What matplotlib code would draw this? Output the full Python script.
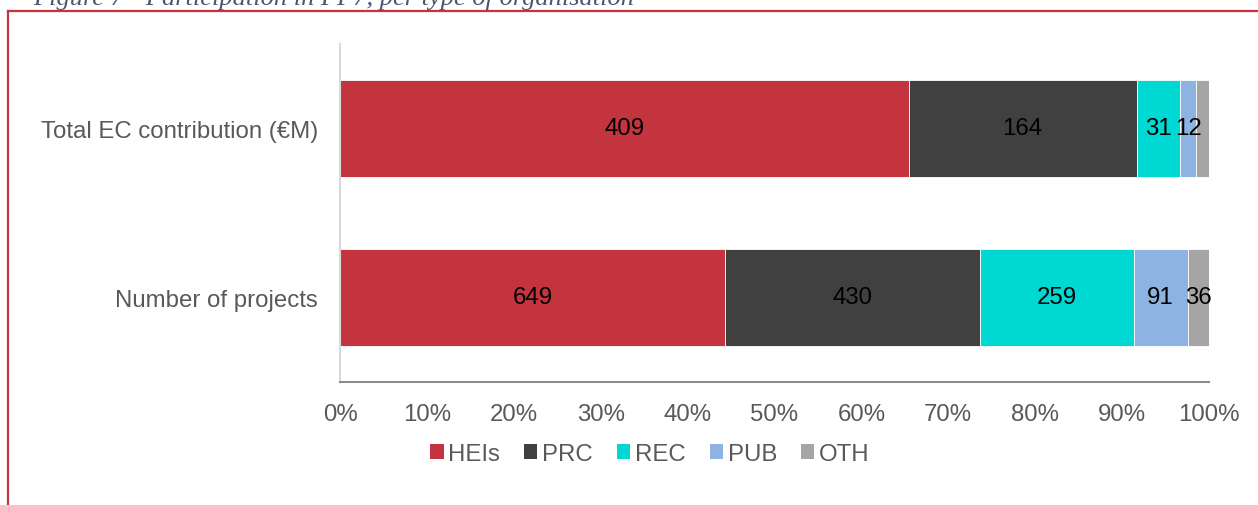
import matplotlib

matplotlib.use("Agg")
import matplotlib.pyplot as plt
from matplotlib.lines import Line2D
from matplotlib.patches import Patch
import numpy as np

plt.rcParams["font.family"] = ["Liberation Sans", "DejaVu Sans"]

# ---------------------------------------------------------------- data
CATEGORIES = ["Total EC contribution (€M)", "Number of projects"]
ORG_TYPES = ["HEIs", "PRC", "REC", "PUB", "OTH"]
EC_CONTRIB = [409, 164, 31, 12, 9]          # OTH is not labelled in the source
N_PROJECTS = [649, 430, 259, 91, 36]
SHOW_LABEL = [[True, True, True, True, False],
              [True, True, True, True, True]]
COLORS = ["#C3343F", "#404040", "#00D8D4", "#8DB3E2", "#A5A5A5"]
CAPTION = "Figure 7 - Participation in FP7, per type of organisation"

W, H = 1258, 506
FS = 17.3


def main():
    fig = plt.figure(figsize=(W / 100, H / 100), dpi=100)
    ax = fig.add_axes([340 / W, 1 - 383 / H, (1209 - 340) / W, (383 - 45) / H])

    rows = np.array([EC_CONTRIB, N_PROJECTS], dtype=float)
    shares = rows / rows.sum(axis=1, keepdims=True)
    ypos = np.arange(len(CATEGORIES))

    left = np.zeros(len(CATEGORIES))
    for j, (name, col) in enumerate(zip(ORG_TYPES, COLORS)):
        ax.barh(ypos, shares[:, j], left=left, height=0.574, color=col,
                edgecolor="white", linewidth=0.6, label=name)
        for i in range(len(CATEGORIES)):
            if SHOW_LABEL[i][j]:
                ax.text(left[i] + shares[i, j] / 2, ypos[i], f"{rows[i, j]:.0f}",
                        ha="center", va="center", fontsize=FS, color="black")
        left = left + shares[:, j]

    ax.set_xlim(0, 1)
    ax.set_ylim(len(CATEGORIES) - 0.5, -0.5)
    ax.set_yticks(ypos)
    ax.set_yticklabels(CATEGORIES)
    ax.set_xticks(np.linspace(0, 1, 11))
    ax.set_xticklabels([f"{int(round(v * 100))}%" for v in np.linspace(0, 1, 11)])
    ax.tick_params(axis="x", length=0, pad=15, labelsize=FS, colors="#595959")
    ax.tick_params(axis="y", length=0, pad=16, labelsize=FS, colors="#595959")
    for s in ("top", "right"):
        ax.spines[s].set_visible(False)
    ax.spines["left"].set_color("#D9D9D9")
    ax.spines["left"].set_linewidth(1.5)
    ax.spines["bottom"].set_color("#8C8C8C")
    ax.spines["bottom"].set_linewidth(1.5)

    handles = [Patch(facecolor=c, edgecolor="none") for c in COLORS]
    fig.legend(handles, ORG_TYPES, loc="center", bbox_to_anchor=(650 / W, 1 - 455 / H),
               ncol=5, frameon=False, fontsize=FS, labelcolor="#595959",
               handlelength=0.55, handleheight=0.55, handletextpad=0.2,
               columnspacing=1.0)

    # caption (cut off by the top edge, as in the source) and red frame
    fig.text(33 / W, 1 - 5.5 / H, CAPTION, ha="left", va="baseline",
             fontsize=19, style="italic", family="Liberation Serif", color="#4A5670")
    fig.add_artist(Line2D([8 / W, 8 / W], [1 - 12 / H, -0.01], color="#C3343F", lw=1.6))
    fig.add_artist(Line2D([8 / W, 1.01], [1 - 12 / H, 1 - 12 / H], color="#C3343F", lw=1.6))

    fig.savefig("out.png", dpi=100)
    plt.close(fig)


if __name__ == "__main__":
    main()
